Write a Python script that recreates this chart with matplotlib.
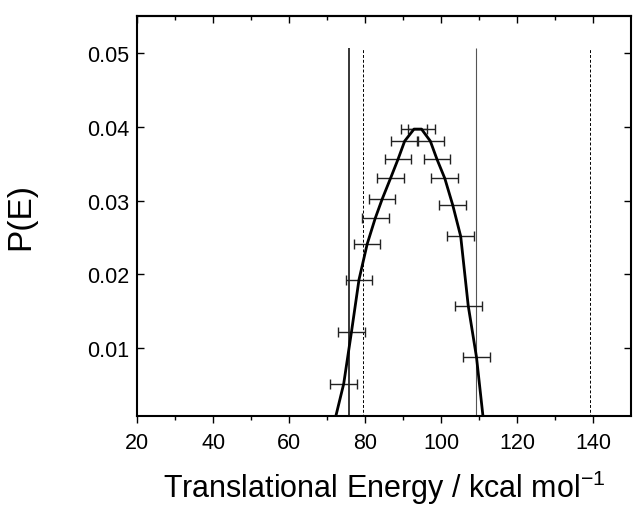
import matplotlib
matplotlib.use("Agg")
import matplotlib.pyplot as plt

plt.rcParams["font.family"] = ["Liberation Sans", "DejaVu Sans"]
plt.rcParams["mathtext.fontset"] = "custom"
plt.rcParams["mathtext.rm"] = "Liberation Sans"
plt.rcParams["mathtext.default"] = "regular"

# fitted curve (left flank, peak, right flank)
curve_e = [72.3, 74.34, 76.40, 78.37, 80.53, 82.64, 84.48, 86.67, 88.64, 90.4, 92.86,
           94.83, 97.15, 98.91, 100.96, 103.05, 105.15, 107.13, 109.31, 111.0]
curve_p = [0.0009, 0.0052, 0.01227, 0.01929, 0.02412, 0.02759, 0.0302, 0.0330, 0.03557, 0.03804, 0.03966,
           0.03966, 0.03804, 0.03557, 0.0330, 0.02939, 0.02516, 0.01578, 0.00881, 0.0009]

# points with horizontal error bars
pts_e = [74.34, 76.40, 78.37, 80.53, 82.64, 84.48, 86.67, 88.64, 90.4, 92.86,
         94.83, 97.15, 98.91, 100.96, 103.05, 105.15, 107.13, 109.31]
pts_p = [0.0052, 0.01227, 0.01929, 0.02412, 0.02759, 0.0302, 0.0330, 0.03557, 0.03804, 0.03966,
         0.03966, 0.03804, 0.03557, 0.0330, 0.02939, 0.02516, 0.01578, 0.00881]
pts_err = [3.5] * len(pts_e)

# vertical marker lines
vlines_e = [75.75, 79.5, 109.1, 139.3]
vlines_top = 0.0506

fig = plt.figure(figsize=(6.34, 5.10), dpi=100)
ax = fig.add_axes([0.2166, 0.183, 0.7787, 0.7843])

ax.vlines(vlines_e[0], 0, vlines_top, color="black", lw=1.1)
ax.vlines(vlines_e[1], 0, vlines_top, color="black", lw=0.7, linestyles=(0, (3, 2)))
ax.vlines(vlines_e[2], 0, vlines_top, color="#555555", lw=0.8)
ax.vlines(vlines_e[3], 0, vlines_top, color="black", lw=0.7, linestyles=(0, (3, 2)))

ax.errorbar(pts_e, pts_p, xerr=pts_err, fmt="none", ecolor="#222222",
            elinewidth=1.0, capsize=3.5, capthick=1.0)
ax.plot(curve_e, curve_p, color="black", lw=2.0)

ax.set_xlim(20, 150)
ax.set_ylim(0.0009, 0.055)
ax.set_xticks([20, 40, 60, 80, 100, 120, 140])
ax.set_xticks(range(30, 150, 20), minor=True)
ax.set_yticks([0.01, 0.02, 0.03, 0.04, 0.05])
ax.set_yticklabels(["0.01", "0.02", "0.03", "0.04", "0.05"])

ax.tick_params(axis="x", which="both", direction="out", top=False, labelsize=15.5, pad=7)
ax.tick_params(axis="x", which="major", length=5, width=1)
ax.tick_params(axis="x", which="minor", length=3, width=1)
ax.tick_params(axis="y", which="major", direction="in", right=True, length=5, width=1,
               labelsize=15.5, pad=6)

# top axis ticks point into the plot
top = ax.secondary_xaxis("top")
top.set_xticks([20, 40, 60, 80, 100, 120, 140])
top.set_xticks(range(30, 150, 20), minor=True)
top.tick_params(which="major", direction="in", length=5, width=1, labeltop=False)
top.tick_params(which="minor", direction="in", length=3, width=1)
top.spines["top"].set_linewidth(1.5)

for s in ax.spines.values():
    s.set_linewidth(1.5)

ax.set_xlabel("Translational Energy / kcal mol$^{-1}$", fontsize=22, labelpad=10)
ax.set_ylabel("P(E)", fontsize=24, labelpad=36)

fig.savefig("out.png", dpi=100)
